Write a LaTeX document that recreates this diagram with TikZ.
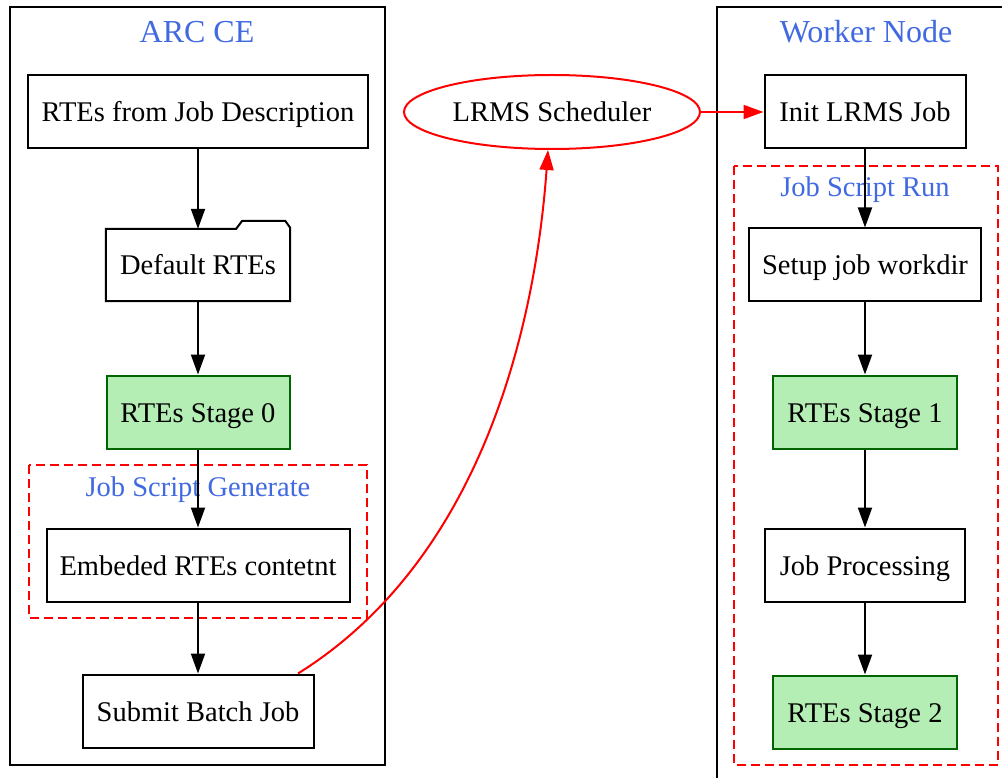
\documentclass[tikz,border=0pt]{standalone}
\usepackage{fontspec}
\setmainfont{Liberation Serif}
\usetikzlibrary{arrows.meta,positioning,shapes.geometric}
\definecolor{clusterblue}{RGB}{65,105,225}
\definecolor{stagegreen}{RGB}{180,238,180}
\definecolor{stageline}{RGB}{0,100,0}

\begin{document}
\begin{tikzpicture}[x=1pt,y=-1pt,on grid,
  every node/.style={font=\fontsize{28.5}{30}\selectfont},
  boxtext/.style={text height=26pt,text depth=6pt,inner sep=0pt},
  job/.style={draw,line width=2pt,minimum height=73pt,boxtext},
  stage/.style={job,draw=stageline,fill=stagegreen},
  flow/.style={-{Triangle[length=20pt,width=14pt]},line width=2pt},
  lrms/.style={flow,red},
  cluster/.style={line width=2pt},
  subcluster/.style={red,dash pattern=on 9pt off 5pt,line width=2pt},
  title/.style={clusterblue,font=\fontsize{32}{34}\selectfont},
  subtitle/.style={clusterblue}]
\clip (0,0) rectangle (1002,778);
\fill[white] (0,0) rectangle (1002,778);

% clusters
\draw[cluster] (10,7) rectangle (385,765);
\node[title] (arc) at (197,32) {ARC CE};
\draw[cluster] (717,7) rectangle (1020,800);
\node[title] (worker) at (866,32) {Worker Node};
\draw[subcluster] (29,465) rectangle (367,618);
\node[subtitle] (gen) at (198,490) {Job Script Generate};
\draw[subcluster] (734,166) rectangle (998,765);
\node[subtitle] (run) at (865,190) {Job Script Run};

% ARC CE side
\node[job,minimum width=340pt] (desc) at (198,112) {RTEs from Job Description};
\node[boxtext,minimum width=184pt,minimum height=72pt] (default) [below=153pt of desc] {Default RTEs};
\draw[line width=2pt] (default.south west) -- (default.north west)
  -- ([xshift=-54pt]default.north east) -- ([xshift=-48pt,yshift=8pt]default.north east)
  -- ([xshift=-5pt,yshift=8pt]default.north east) -- ([yshift=1pt]default.north east)
  -- (default.south east) -- cycle;
\node[stage,minimum width=183pt] (stage0) [below=147pt of default] {RTEs Stage 0};
\node[job,minimum width=303pt] (embed) [below=153pt of stage0] {Embeded RTEs contetnt};
\node[job,minimum width=231pt] (submit) [below=146pt of embed] {Submit Batch Job};

% scheduler
\node[draw=red,ellipse,line width=2pt,minimum width=296pt,minimum height=74pt,boxtext] (sched) at (552,112) {LRMS Scheduler};

% worker node side
\node[job,minimum width=201pt] (init) at (865,112) {Init LRMS Job};
\node[job,minimum width=232pt] (setup) [below=153pt of init] {Setup job workdir};
\node[stage,minimum width=184pt] (stage1) [below=147pt of setup] {RTEs Stage 1};
\node[job,minimum width=200pt] (proc) [below=153pt of stage1] {Job Processing};
\node[stage,minimum width=184pt] (stage2) [below=147pt of proc] {RTEs Stage 2};

\draw[flow] (desc) -- (default);
\draw[flow] (default) -- (stage0);
\draw[flow] (stage0) -- (embed);
\draw[flow] (embed) -- (submit);
\draw[flow] (init) -- (setup);
\draw[flow] (setup) -- (stage1);
\draw[flow] (stage1) -- (proc);
\draw[flow] (proc) -- (stage2);
\draw[lrms] (sched) -- (init);
\draw[lrms] ([xshift=100pt]submit.north) .. controls (480,560) and (535,330) .. ([xshift=-4pt]sched.south);
\end{tikzpicture}
\end{document}
